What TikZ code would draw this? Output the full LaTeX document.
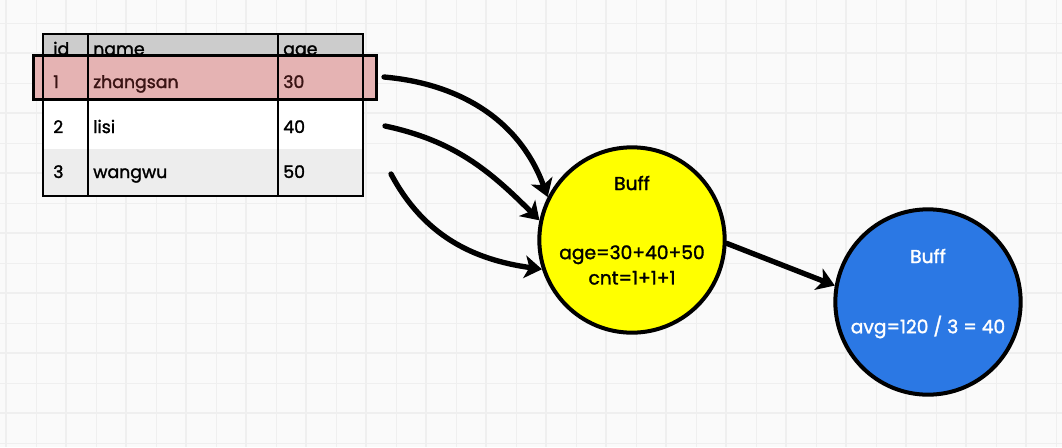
\documentclass[tikz,border=0pt]{standalone}
\usepackage{fontspec}
\setmainfont[FakeBold=1.6]{Poppins}
\usetikzlibrary{arrows.meta}
\definecolor{canvas}{HTML}{FAFAFA}
\definecolor{gridline}{HTML}{EFEFEF}
\definecolor{headgray}{HTML}{CCCCCC}
\definecolor{rowgray}{HTML}{EDEDED}
\definecolor{hilite}{HTML}{E5B3B3}
\definecolor{hilitetext}{HTML}{3A1414}
\definecolor{buffyellow}{HTML}{FFFF00}
\definecolor{buffblue}{HTML}{2B78E4}

\begin{document}
\begin{tikzpicture}[x=0.75pt,y=0.75pt,
    cell/.style={anchor=base west,inner sep=0pt,font=\fontsize{13}{15}\selectfont},
    buff/.style={circle,draw,line width=3pt,minimum size=139pt,inner sep=0pt},
    bufftext/.style={align=center,inner sep=0pt,font=\fontsize{14}{19}\selectfont},
    flow/.style={line width=4pt,line cap=round,-{Stealth[length=13pt,width=17pt,inset=3.5pt]}}]
    \useasboundingbox (0,0) rectangle (1062,-447);
    \fill[canvas] (0,0) rectangle (1062,-447);
    \foreach \x in {36,96,...,1062} \draw[gridline,line width=0.75pt] (\x,0) -- (\x,-447);
    \foreach \x in {6,66,...,1062} \draw[gridline,line width=1.5pt] (\x,0) -- (\x,-447);
    \foreach \y in {23,83,...,447} \draw[gridline,line width=0.75pt] (0,-\y) -- (1062,-\y);
    \foreach \y in {53,113,...,447} \draw[gridline,line width=1.5pt] (0,-\y) -- (1062,-\y);

    \fill[white] (43,-34) rectangle (363,-196);
    \fill[headgray] (43,-34) rectangle (363,-55);
    \fill[rowgray] (43,-149) rectangle (363,-196);
    \node[cell] (hid) at (53,-55) {id};
    \node[cell] (hname) at (93,-55) {name};
    \node[cell] (hage) at (283,-55) {age};
    \fill[hilite] (33,-55) rectangle (376,-99);
    \node[cell,hilitetext] (id1) at (53,-88) {1};
    \node[cell,hilitetext] (name1) at (93,-88) {zhangsan};
    \node[cell,hilitetext] (age1) at (283,-88) {30};
    \node[cell] (id2) at (53,-133) {2};
    \node[cell] (name2) at (93,-133) {lisi};
    \node[cell] (age2) at (283,-133) {40};
    \node[cell] (id3) at (53,-178) {3};
    \node[cell] (name3) at (93,-178) {wangwu};
    \node[cell] (age3) at (283,-178) {50};
    \draw[line width=1.8pt] (43,-34) rectangle (363,-196);
    \draw[line width=2pt] (88,-34) -- (88,-196);
    \draw[line width=2pt] (278,-34) -- (278,-196);
    \draw[line width=2.25pt] (33,-55) rectangle (376,-99);

    \node[buff,fill=buffyellow] (sum) at (632,-240) {};
    \node[bufftext] (sumtitle) at (632,-183) {Buff};
    \node[bufftext] (sumbody) at (632,-265) {age=30+40+50\\cnt=1+1+1};
    \node[buff,fill=buffblue] (avg) at (928,-302) {};
    \node[bufftext,white] (avgtitle) at (928,-256) {Buff};
    \node[bufftext,white] (avgbody) at (928,-327) {avg=120 / 3 = 40};

    \coordinate (r1) at (384,-77);
    \coordinate (r2) at (385,-126);
    \coordinate (r3) at (391,-174);
    \draw[flow] (r1) to[out=-5,in=110] (sum.153);
    \draw[flow] (r2) to[out=-12,in=135] (sum.168);
    \draw[flow] (r3) to[out=-62,in=172] (sum.198);
    \draw[flow] (sum.-2) -- (avg.170);
\end{tikzpicture}
\end{document}
